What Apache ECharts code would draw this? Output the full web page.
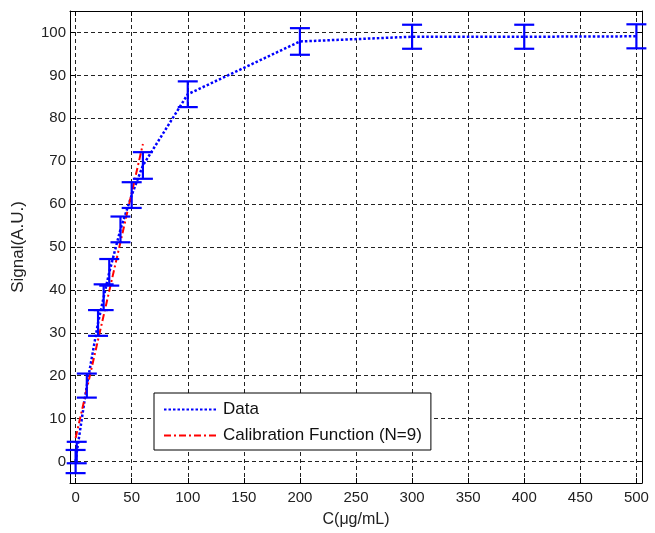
<!DOCTYPE html>
<html>
<head>
<meta charset="utf-8">
<script src="https://cdn.jsdelivr.net/npm/echarts@6/dist/echarts.min.js"></script>
<style>
    html,body{margin:0;padding:0;background:#fff;}
    #main{width:655px;height:533px;}
</style>
</head>
<body>
<div id="main"></div>
<script>
    //浓度 / 信号 / 误差
    var concList = [0, 1, 10, 20, 25, 30, 40, 50, 60, 100, 200, 300, 400, 500];
    var signalList = [0, 2.1, 17.7, 32.3, 38.3, 44.1, 54.1, 62.1, 69, 85.6, 97.9, 99, 99, 99.1];
    var errList = [2.7, 2.5, 2.8, 3.0, 3.0, 3.1, 3.0, 3.0, 3.1, 3.0, 3.1, 2.8, 2.8, 2.8];
    //标定曲线 (N=9)
    var calX = [0, 60];
    var calY = [5.5, 74];

    var xTicks = [0, 50, 100, 150, 200, 250, 300, 350, 400, 450, 500];
    var yTicks = [0, 10, 20, 30, 40, 50, 60, 70, 80, 90, 100];

    var fontName = '"Liberation Sans", Arial, sans-serif';

    var dataLine = [], errData = [], calLine = [];
    for (var i = 0; i < concList.length; i++) {
        dataLine.push([concList[i], signalList[i]]);
        errData.push([concList[i], signalList[i] - errList[i], signalList[i] + errList[i]]);
    }
    for (var j = 0; j < calX.length; j++) {
        calLine.push([calX[j], calY[j]]);
    }

    function onlyTicks(list) {
        return function (v) {
            return list.indexOf(v) >= 0 ? String(v) : '';
        };
    }

    function axisX(pos, showLabel) {
        return {
            type: 'value',
            position: pos,
            min: -5,
            max: 505,
            splitNumber: 10,
            minInterval: 50,
            maxInterval: 50,
            name: showLabel ? 'C(\u03bcg/mL)' : '',
            nameLocation: 'middle',
            nameGap: 29,
            nameTextStyle: {fontFamily: fontName, fontSize: 16, color: '#222'},
            axisLine: {show: true, onZero: false, lineStyle: {color: '#000', width: 1}},
            axisTick: {show: true, inside: true, length: 5, lineStyle: {color: '#000'}},
            axisLabel: {
                show: showLabel, margin: 7, color: '#222', fontSize: 15, fontFamily: fontName,
                formatter: onlyTicks(xTicks)
            },
            splitLine: {show: showLabel, lineStyle: {color: '#222', type: [4, 3], width: 1}}
        };
    }

    function axisY(pos, showLabel) {
        return {
            type: 'value',
            position: pos,
            min: -5,
            max: 105,
            splitNumber: 11,
            minInterval: 10,
            maxInterval: 10,
            name: showLabel ? 'Signal(A.U.)' : '',
            nameLocation: 'middle',
            nameGap: 43,
            nameTextStyle: {fontFamily: fontName, fontSize: 17, color: '#222'},
            axisLine: {show: true, onZero: false, lineStyle: {color: '#000', width: 1}},
            axisTick: {show: true, inside: true, length: 5, lineStyle: {color: '#000'}},
            axisLabel: {
                show: showLabel, margin: 4, color: '#222', fontSize: 15, fontFamily: fontName,
                formatter: onlyTicks(yTicks)
            },
            splitLine: {show: showLabel, lineStyle: {color: '#222', type: [4, 3], width: 1}}
        };
    }

    //误差棒
    function renderErr(params, api) {
        var x = api.value(0);
        var lo = api.coord([x, api.value(1)]);
        var hi = api.coord([x, api.value(2)]);
        var half = 10;
        var style = {stroke: '#0000ff', lineWidth: 2.2};
        return {
            type: 'group',
            children: [
                {type: 'line', shape: {x1: lo[0], y1: lo[1], x2: hi[0], y2: hi[1]}, style: style},
                {type: 'line', shape: {x1: lo[0] - half, y1: lo[1], x2: lo[0] + half, y2: lo[1]}, style: style},
                {type: 'line', shape: {x1: hi[0] - half, y1: hi[1], x2: hi[0] + half, y2: hi[1]}, style: style}
            ]
        };
    }

    var myChart = echarts.init(document.getElementById('main'));
    var option = {
        animation: false,
        backgroundColor: '#fff',
        grid: {left: 70, right: 13, top: 11, bottom: 50},
        legend: {
            data: ['Data', 'Calibration Function (N=9)'],
            orient: 'vertical',
            left: 154,
            top: 393,
            itemWidth: 54,
            itemHeight: 14,
            itemGap: 9,
            padding: [8, 9, 6, 9],
            backgroundColor: '#fff',
            borderColor: '#000',
            borderWidth: 1,
            borderRadius: 0,
            itemStyle: {opacity: 0},
            textStyle: {fontFamily: fontName, fontSize: 17, color: '#111'}
        },
        xAxis: [axisX('bottom', true), axisX('top', false)],
        yAxis: [axisY('left', true), axisY('right', false)],
        series: [
            {
                name: 'Data',
                type: 'line',
                data: dataLine,
                symbol: 'none',
                color: '#0000ff',
                lineStyle: {color: '#0000ff', width: 2.5, type: [2.5, 2]},
                z: 3
            },
            {
                name: 'Calibration Function (N=9)',
                type: 'line',
                data: calLine,
                symbol: 'none',
                color: '#ff0000',
                lineStyle: {color: '#ff0000', width: 2, type: [7, 3, 2, 3]},
                z: 4
            },
            {
                name: 'err',
                type: 'custom',
                data: errData,
                renderItem: renderErr,
                z: 5
            }
        ]
    };
    myChart.setOption(option);
</script>
</body>
</html>
